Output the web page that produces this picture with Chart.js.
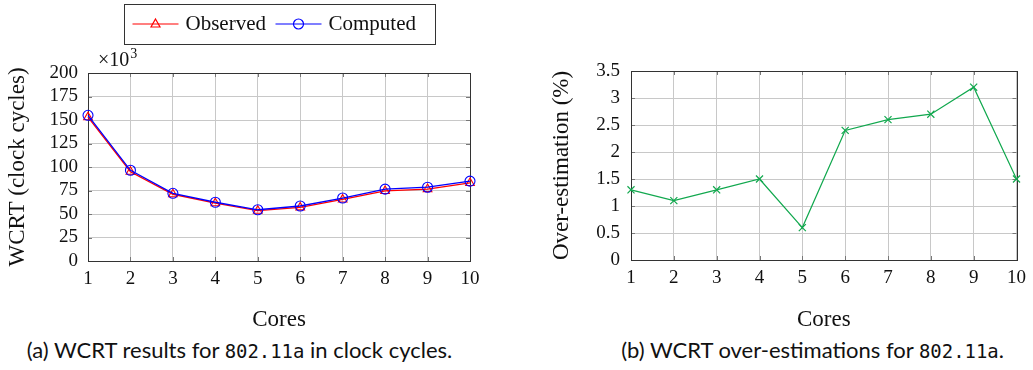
<!DOCTYPE html>
<html>
<head>
<meta charset="utf-8">
<script src="https://cdn.jsdelivr.net/npm/chart.js@4.4.0/dist/chart.umd.min.js"></script>
<style>
	body { margin: 0; background: #fff; width: 1033px; height: 370px; position: relative; overflow: hidden; }
	.box { position: absolute; top: 0; height: 335px; }
	#left { left: 0; width: 520px; }
	#right { left: 520px; width: 513px; }
	.cap { position: absolute; top: 335px; height: 30px; line-height: 30px; font-family: Lato, sans-serif; font-size: 22px; color: #111; text-align: center; white-space: nowrap; }
	.cap code { font-family: "DejaVu Sans Mono", monospace; font-size: 0.86em; }
	#capA { left: 0; width: 479px; }
	#capB { left: 592px; width: 441px; }
</style>
</head>
<body>
<div class="box" id="left"><canvas id="wcrtChart"></canvas></div>
<div class="box" id="right"><canvas id="overChart"></canvas></div>
<div class="cap" id="capA">(a) WCRT results for <code>802.11a</code> in clock cycles.</div>
<div class="cap" id="capB">(b) WCRT over-estimations for <code>802.11a</code>.</div>
<script>
const cores = ["1", "2", "3", "4", "5", "6", "7", "8", "9", "10"];
// values in thousands of clock cycles
const observed = [153, 95, 71, 61.5, 53.5, 57, 65.5, 74.5, 76.5, 83];
const computed = [155, 96.5, 72, 62.5, 54.5, 58.5, 67, 76.5, 78.5, 85];
const overEstimation = [1.3, 1.1, 1.3, 1.5, 0.6, 2.4, 2.6, 2.7, 3.2, 1.5];
const wcrtTicks = ["0", "25", "50", "75", "100", "125", "150", "175", "200"];
const overTicks = ["0", "0.5", "1", "1.5", "2", "2.5", "3", "3.5"];

const serif = "Liberation Serif";
const gridColor = "#c8c8c8";

// pgfplots style box with small inner ticks
const frame = {
	id: "frame",
	beforeDatasetsDraw(chart) {
		const { ctx, chartArea: a, scales } = chart;
		const x = scales.x, y = scales.y;
		ctx.save();
		ctx.strokeStyle = "#777";
		ctx.lineWidth = 1;
		ctx.beginPath();
		x.ticks.forEach((t, i) => {
			const px = Math.round(x.getPixelForTick(i)) + 0.5;
			ctx.moveTo(px, a.top); ctx.lineTo(px, a.top + 4);
			ctx.moveTo(px, a.bottom); ctx.lineTo(px, a.bottom - 4);
		});
		y.ticks.forEach((t, i) => {
			const py = Math.round(y.getPixelForTick(i)) + 0.5;
			ctx.moveTo(a.left, py); ctx.lineTo(a.left + 4, py);
			ctx.moveTo(a.right, py); ctx.lineTo(a.right - 4, py);
		});
		ctx.stroke();
		ctx.strokeStyle = "#333";
		ctx.strokeRect(Math.round(a.left) + 0.5, Math.round(a.top) + 0.5,
			Math.round(a.right - a.left), Math.round(a.bottom - a.top));
		ctx.restore();
	},
};

function drawMarker(ctx, style, cx, cy, r) {
	ctx.beginPath();
	if (style === "triangle") {
		ctx.moveTo(cx, cy - r);
		ctx.lineTo(cx + r * 0.9, cy + r * 0.6);
		ctx.lineTo(cx - r * 0.9, cy + r * 0.6);
		ctx.closePath();
	} else {
		ctx.arc(cx, cy, r, 0, Math.PI * 2);
	}
	ctx.stroke();
}

const legendBox = {
	id: "legendBox",
	afterDraw(chart) {
		const { ctx, chartArea: a } = chart;
		const bx = (a.left + a.right) / 2 - 155.5;
		const by = 4, bw = 311, bh = 40, my = by + bh / 2;
		const offs = [9, 152];
		ctx.save();
		ctx.strokeStyle = "#333";
		ctx.lineWidth = 1;
		ctx.strokeRect(Math.round(bx) + 0.5, by + 0.5, bw, bh);
		chart.data.datasets.forEach((ds, i) => {
			const x0 = bx + offs[i];
			ctx.strokeStyle = ds.borderColor;
			ctx.lineWidth = 1.2;
			ctx.beginPath();
			ctx.moveTo(x0, my); ctx.lineTo(x0 + 46, my);
			ctx.stroke();
			drawMarker(ctx, ds.pointStyle, x0 + 23, my, ds.pointRadius);
			ctx.fillStyle = "#111";
			ctx.font = "21px '" + serif + "'";
			ctx.textBaseline = "middle";
			ctx.fillText(ds.label, x0 + 53, my);
		});
		// x10^3 multiplier
		ctx.font = "20px '" + serif + "'";
		ctx.textBaseline = "alphabetic";
		ctx.fillText("\u00d710", a.left + 10, a.top - 7);
		const w = ctx.measureText("\u00d710").width;
		ctx.font = "14px '" + serif + "'";
		ctx.fillText("3", a.left + 11 + w, a.top - 15);
		ctx.restore();
	},
};

function axisX(height) {
	return {
		type: "category",
		offset: false,
		grid: { color: gridColor, lineWidth: 1, drawTicks: false },
		border: { display: false },
		ticks: { color: "#111", padding: 7, font: { family: serif, size: 19 }, maxRotation: 0, autoSkip: false },
		title: { display: true, text: "Cores", color: "#111", font: { family: serif, size: 23 }, padding: { top: 0, bottom: 1 } },
		afterFit: (s) => { s.height = height; },
	};
}

function axisY(max, step, labels, title, width, titlePad, tickPad) {
	return {
		min: 0,
		max: max,
		grid: { color: gridColor, lineWidth: 1, drawTicks: false },
		border: { display: false },
		ticks: {
			stepSize: step, color: "#111", padding: tickPad, autoSkip: false,
			font: { family: serif, size: 19 },
			callback: (v, i) => labels[i],
		},
		title: { display: true, text: title, color: "#111", font: { family: serif, size: 23 }, padding: { top: titlePad, bottom: 0 } },
		afterFit: (s) => { s.width = width; },
	};
}

new Chart(document.getElementById("wcrtChart"), {
	type: "line",
	data: {
		labels: cores,
		datasets: [
			{
				label: "Observed",
				data: observed,
				order: 1,
				borderColor: "#ff0000",
				backgroundColor: "rgba(0,0,0,0)",
				borderWidth: 1.3,
				pointStyle: "triangle",
				pointRadius: 5,
				pointBorderWidth: 1.1,
				tension: 0,
			},
			{
				label: "Computed",
				data: computed,
				order: 0,
				borderColor: "#0000ff",
				backgroundColor: "rgba(0,0,0,0)",
				borderWidth: 1.3,
				pointStyle: "circle",
				pointRadius: 5,
				pointBorderWidth: 1.1,
				tension: 0,
			},
		],
	},
	options: {
		responsive: true,
		maintainAspectRatio: false,
		animation: false,
		layout: { padding: { left: 0, right: 50, top: 73, bottom: 0 } },
		plugins: { legend: { display: false }, tooltip: { enabled: false } },
		scales: {
			x: axisX(74),
			y: axisY(200, 25, wcrtTicks, "WCRT (clock cycles)", 88, 4, 10),
		},
	},
	plugins: [frame, legendBox],
});

new Chart(document.getElementById("overChart"), {
	type: "line",
	data: {
		labels: cores,
		datasets: [
			{
				label: "Over-estimation",
				data: overEstimation,
				borderColor: "#11a84e",
				backgroundColor: "rgba(0,0,0,0)",
				borderWidth: 1.2,
				pointStyle: "crossRot",
				pointRadius: 5,
				pointBorderWidth: 1.2,
				tension: 0,
			},
		],
	},
	options: {
		responsive: true,
		maintainAspectRatio: false,
		animation: false,
		layout: { padding: { left: 0, right: 16, top: 71, bottom: 0 } },
		plugins: { legend: { display: false }, tooltip: { enabled: false } },
		scales: {
			x: axisX(75),
			y: axisY(3.5, 0.5, overTicks, "Over-estimation (%)", 111, 28, 11),
		},
	},
	plugins: [frame],
});
</script>
</body>
</html>
